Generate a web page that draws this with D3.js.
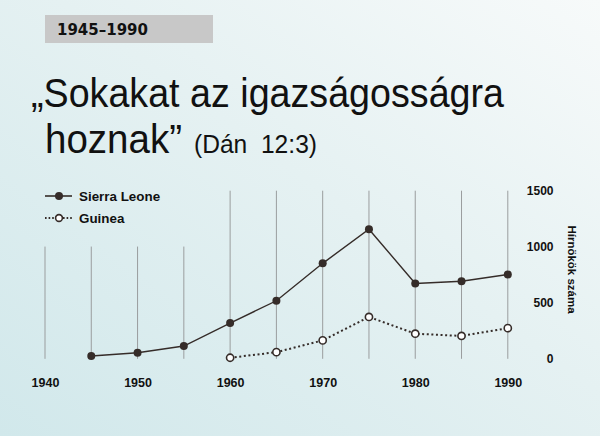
<!DOCTYPE html>
<html>
<head>
<meta charset="utf-8">
<script src="https://cdn.jsdelivr.net/npm/d3@7"></script>
<style>
  html, body { margin: 0; padding: 0; }
  svg { display: block; }
</style>
</head>
<body>
<div id="chart"></div>
<script>
// values (publishers per year)
const sierraYears = [1945, 1950, 1955, 1960, 1965, 1970, 1975, 1980, 1985, 1990];
const sierraValues = [20, 50, 110, 315, 515, 850, 1155, 670, 690, 750];
const guineaYears = [1960, 1965, 1970, 1975, 1980, 1985, 1990];
const guineaValues = [5, 55, 160, 370, 220, 200, 270];
const gridYears = [1940, 1945, 1950, 1955, 1960, 1965, 1970, 1975, 1980, 1985, 1990];
const xTicks = [1940, 1950, 1960, 1970, 1980, 1990];
const yTicks = [0, 500, 1000, 1500];

const width = 600, height = 436;
const ink = "#352c29";

const sierra = sierraYears.map((d, i) => ({year: d, value: sierraValues[i]}));
const guinea = guineaYears.map((d, i) => ({year: d, value: guineaValues[i]}));

const x = d3.scaleLinear().domain([1940, 1990]).range([45, 507.8]);
const y = d3.scaleLinear().domain([0, 1500]).range([358.3, 190.7]);

const svg = d3.select("#chart").append("svg")
    .attr("width", width)
    .attr("height", height)
    .attr("viewBox", [0, 0, width, height]);

// soft background wash
const grad = svg.append("defs").append("linearGradient")
    .attr("id", "bg")
    .attr("x1", 0).attr("y1", 1).attr("x2", 1).attr("y2", 0);
grad.append("stop").attr("offset", "0%").attr("stop-color", "#d1e8eb");
grad.append("stop").attr("offset", "55%").attr("stop-color", "#e5f1f2");
grad.append("stop").attr("offset", "100%").attr("stop-color", "#f7fafa");
svg.append("rect").attr("width", width).attr("height", height).attr("fill", "url(#bg)");

// header tag
svg.append("rect")
    .attr("x", 45).attr("y", 15).attr("width", 168).attr("height", 28)
    .attr("fill", "#c8c8c8");
svg.append("text")
    .attr("x", 57).attr("y", 35)
    .attr("font-family", "DejaVu Sans")
    .attr("font-weight", "bold")
    .attr("font-size", 15)
    .attr("fill", "#111")
    .text("1945–1990");

// title
const titleFont = "'Liberation Sans', Arial, sans-serif";
svg.append("text")
    .attr("x", 31).attr("y", 107)
    .attr("font-family", titleFont)
    .attr("font-size", 41)
    .attr("fill", "#111")
    .attr("textLength", 473)
    .attr("lengthAdjust", "spacingAndGlyphs")
    .text("„Sokakat az igazságosságra");
svg.append("text")
    .attr("x", 45).attr("y", 153)
    .attr("font-family", titleFont)
    .attr("font-size", 41)
    .attr("fill", "#111")
    .attr("textLength", 137)
    .attr("lengthAdjust", "spacingAndGlyphs")
    .text("hoznak”");
svg.append("text")
    .attr("x", 194).attr("y", 153)
    .attr("font-family", titleFont)
    .attr("font-size", 26)
    .attr("fill", "#111")
    .attr("textLength", 123)
    .attr("lengthAdjust", "spacingAndGlyphs")
    .text("(Dán\u00a0 12:3)");

// vertical grid, shorter on the left where the legend sits
svg.append("g")
    .attr("stroke", "#9a9d9e")
    .attr("stroke-width", 1)
    .selectAll("line")
    .data(gridYears)
    .join("line")
    .attr("x1", d => x(d)).attr("x2", d => x(d))
    .attr("y1", y(0) + 0.5)
    .attr("y2", d => d < 1960 ? y(1000) : y(1500));

// axes
const labelFont = "'Liberation Sans', Arial, sans-serif";
svg.append("g")
    .attr("transform", "translate(0,378.5)")
    .call(d3.axisBottom(x).tickValues(xTicks).tickFormat(d3.format("d")).tickSize(0).tickPadding(0))
    .call(g => g.select(".domain").remove())
    .call(g => g.selectAll("text")
        .attr("font-family", labelFont)
        .attr("font-weight", "bold")
        .attr("font-size", 12.5)
        .attr("fill", "#111"));

svg.append("g")
    .attr("transform", "translate(553.5,0)")
    .call(d3.axisLeft(y).tickValues(yTicks).tickFormat(d3.format("d")).tickSize(0).tickPadding(0))
    .call(g => g.select(".domain").remove())
    .call(g => g.selectAll("text")
        .attr("font-family", labelFont)
        .attr("font-weight", "bold")
        .attr("font-size", 12)
        .attr("fill", "#111"));

svg.append("text")
    .attr("transform", `translate(568,${(y(1500) + y(0)) / 2 - 5}) rotate(90)`)
    .attr("text-anchor", "middle")
    .attr("font-family", labelFont)
    .attr("font-weight", "bold")
    .attr("font-size", 11.5)
    .attr("fill", "#111")
    .text("Hírnökök száma");

// series
const line = d3.line().x(d => x(d.year)).y(d => y(d.value));

svg.append("path")
    .datum(guinea)
    .attr("fill", "none")
    .attr("stroke", ink)
    .attr("stroke-width", 2)
    .attr("stroke-dasharray", "2,2.6")
    .attr("d", line);

svg.append("path")
    .datum(sierra)
    .attr("fill", "none")
    .attr("stroke", ink)
    .attr("stroke-width", 1.4)
    .attr("d", line);

svg.append("g")
    .selectAll("circle")
    .data(sierra)
    .join("circle")
    .attr("cx", d => x(d.year))
    .attr("cy", d => y(d.value))
    .attr("r", 4)
    .attr("fill", ink);

svg.append("g")
    .selectAll("circle")
    .data(guinea)
    .join("circle")
    .attr("cx", d => x(d.year))
    .attr("cy", d => y(d.value))
    .attr("r", 3.6)
    .attr("fill", "#fff")
    .attr("stroke", ink)
    .attr("stroke-width", 1.6);

// legend
const legend = svg.append("g").attr("transform", "translate(45,196)");
legend.append("line").attr("x1", 0).attr("x2", 27).attr("stroke", ink).attr("stroke-width", 1.6);
legend.append("circle").attr("cx", 14).attr("r", 4).attr("fill", ink);
legend.append("text")
    .attr("x", 34).attr("y", 4.7)
    .attr("font-family", labelFont).attr("font-weight", "bold").attr("font-size", 13.4)
    .attr("fill", "#111")
    .text("Sierra Leone");

const legend2 = svg.append("g").attr("transform", "translate(45,218)");
legend2.append("line").attr("x1", 0).attr("x2", 27)
    .attr("stroke", ink).attr("stroke-width", 2).attr("stroke-dasharray", "1.6,2");
legend2.append("circle").attr("cx", 14).attr("r", 3.4)
    .attr("fill", "#fff").attr("stroke", ink).attr("stroke-width", 1.6);
legend2.append("text")
    .attr("x", 34).attr("y", 4.7)
    .attr("font-family", labelFont).attr("font-weight", "bold").attr("font-size", 13.4)
    .attr("fill", "#111")
    .text("Guinea");
</script>
</body>
</html>
